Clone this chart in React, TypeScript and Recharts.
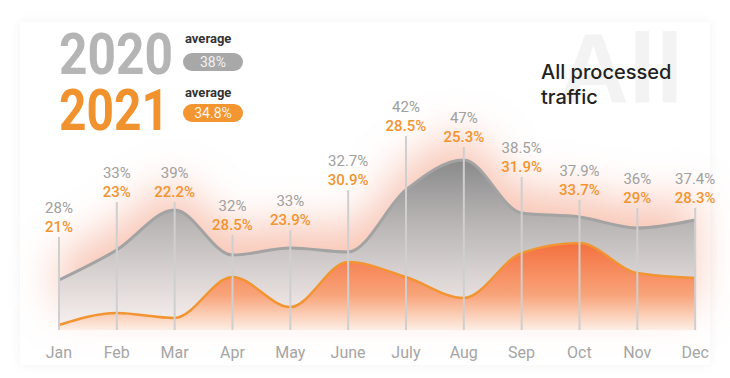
import React from "react";
import { Area, Bar, ComposedChart, LabelList, XAxis, YAxis } from "recharts";

// month categories and the printed percentages
const months = ["Jan", "Feb", "Mar", "Apr", "May", "June", "July", "Aug", "Sep", "Oct", "Nov", "Dec"];
const labels2020 = ["28%", "33%", "39%", "32%", "33%", "32.7%", "42%", "47%", "38.5%", "37.9%", "36%", "37.4%"];
const labels2021 = ["21%", "23%", "22.2%", "28.5%", "23.9%", "30.9%", "28.5%", "25.3%", "31.9%", "33.7%", "29%", "28.3%"];

// curve levels as drawn (infographic scale, 0-100)
const curve2020 = [25, 40, 60, 37.5, 41, 39, 70, 85, 58.5, 56.5, 51, 55];
const curve2021 = [2.5, 8.5, 6, 26.5, 11.5, 34, 26.5, 16, 38.5, 43.5, 28.5, 26];
// height of the marker stem under each label pair
const markerLevel = [46.5, 64, 64, 47.5, 50, 70, 97, 91.5, 76.5, 65, 61, 61];

const averages = { y2020: "38%", y2021: "34.8%" };

const data = months.map((m, i) => ({
  month: m,
  y2020: curve2020[i],
  y2021: curve2021[i],
  marker: markerLevel[i],
}));

const font = "Roboto, 'Noto Sans', sans-serif";
const grey = "#a3a3a3";
const orange = "#f29431";

const MarkerLabel = (props: any) => {
  const { x, y, width, index } = props;
  const cx = x + width / 2;
  return (
    <g fontFamily={font} textAnchor="middle">
      <text x={cx} y={y - 24} fontSize={15} fill="#a0a0a0">
        {labels2020[index]}
      </text>
      <text x={cx} y={y - 5} fontSize={15} fontWeight={500} fill={orange}>
        {labels2021[index]}
      </text>
    </g>
  );
};

const MonthTick = (props: any) => {
  const { x, y, payload } = props;
  return (
    <text x={x} y={y + 28} textAnchor="middle" fontFamily={font} fontSize={16} fill="#a5a5a5">
      {payload.value}
    </text>
  );
};

export default function App() {
  return (
    <div style={{ position: "absolute", left: 0, top: 0, width: 730, height: 378, background: "#fff", overflow: "hidden" }}>
      <div
        style={{
          position: "absolute",
          left: 20,
          top: 22,
          width: 690,
          height: 343,
          background: "#fff",
          boxShadow: "0 0 10px rgba(0,0,0,0.06)",
        }}
      />
      <svg width={730} height={378} style={{ position: "absolute", left: 0, top: 0 }}>
        <text x={558} y={102} fontFamily="'Liberation Sans', Arial, sans-serif" fontWeight={700} fontSize={98} fill="#f3f3f3">
          All
        </text>
      </svg>
      <div style={{ position: "absolute", left: 0, top: 0 }}>
        <ComposedChart width={730} height={378} data={data} margin={{ top: 130, right: 6, bottom: 18, left: 30 }}>
          <defs>
            <filter id="glow" x="-30%" y="-100%" width="160%" height="300%">
              <feOffset dy={-24} />
              <feGaussianBlur stdDeviation={22} />
            </filter>
            <linearGradient id="greyFill" x1="0" y1="0" x2="0" y2="1">
              <stop offset="0%" stopColor="#8a8a8a" />
              <stop offset="40%" stopColor="#bcb8b8" />
              <stop offset="80%" stopColor="#e6dfde" />
              <stop offset="100%" stopColor="#f7f2f1" />
            </linearGradient>
            <linearGradient id="orangeFill" x1="0" y1="0" x2="0" y2="1">
              <stop offset="0%" stopColor="#f4703f" />
              <stop offset="60%" stopColor="#f8a47a" />
              <stop offset="100%" stopColor="#fdeee5" />
            </linearGradient>
          </defs>
          <XAxis dataKey="month" axisLine={false} tickLine={false} tickSize={0} tickMargin={0} height={30} tick={<MonthTick />} interval={0} />
          <YAxis hide domain={[0, 100]} />
          <Area
            type="monotone"
            dataKey="y2020"
            stroke="none"
            fill="#f3a086"
            fillOpacity={0.6}
            filter="url(#glow)"
            isAnimationActive={false}
          />
          <Area type="monotone" dataKey="y2020" stroke={grey} strokeWidth={3} fill="url(#greyFill)" fillOpacity={1} isAnimationActive={false} />
          <Area type="monotone" dataKey="y2021" stroke={orange} strokeWidth={2.5} fill="url(#orangeFill)" fillOpacity={1} isAnimationActive={false} />
          <Bar dataKey="marker" barSize={2} fill="#cfcfcf" isAnimationActive={false}>
            <LabelList dataKey="marker" content={<MarkerLabel />} />
          </Bar>
        </ComposedChart>
      </div>
      <svg width={730} height={378} style={{ position: "absolute", left: 0, top: 0 }}>
        <g fontFamily={font} fontWeight={700}>
          <text x={59} y={74} fontSize={58} fill="#b5b5b5" textLength={114} lengthAdjust="spacingAndGlyphs">
            2020
          </text>
          <text x={59} y={130} fontSize={58} fill="#f0922e" textLength={110} lengthAdjust="spacingAndGlyphs">
            2021
          </text>
          <text x={185} y={43} fontSize={13} fill="#333">
            average
          </text>
          <text x={185} y={97} fontSize={13} fill="#333">
            average
          </text>
        </g>
        <rect x={183} y={53} width={60} height={18} rx={9} fill="#a8a8a8" />
        <text x={213} y={67} textAnchor="middle" fontFamily={font} fontSize={14} fill="#f2f2f2">
          {averages.y2020}
        </text>
        <rect x={183} y={104} width={60} height={18} rx={9} fill="#f39530" />
        <text x={213} y={118} textAnchor="middle" fontFamily={font} fontSize={14} fill="#fff4ea">
          {averages.y2021}
        </text>
        <g fontFamily="Inter, 'Open Sans', sans-serif" fontWeight={500} fontSize={20} fill="#222">
          <text x={541} y={79}>All processed</text>
          <text x={541} y={104}>traffic</text>
        </g>
      </svg>
    </div>
  );
}
